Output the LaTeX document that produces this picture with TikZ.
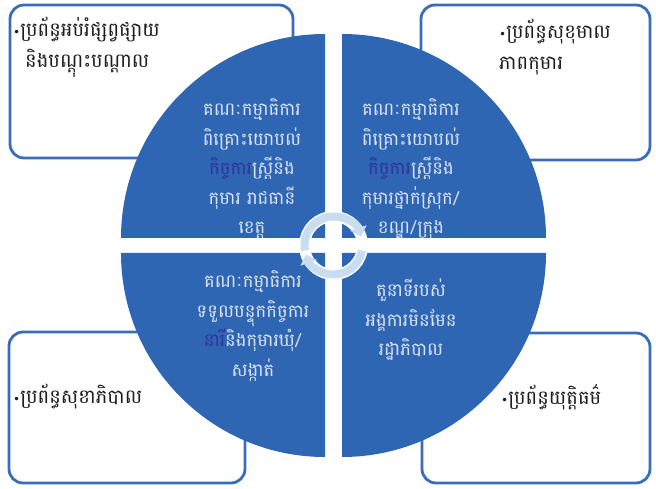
\documentclass[tikz,border=0pt]{standalone}
\usepackage{fontspec}
\usetikzlibrary{arrows.meta}
\newfontfamily\khmer[Script=Khmer]{Battambang}
\newfontfamily\bulfont{DejaVu Sans}
\definecolor{quadblue}{HTML}{2F66B4}
\definecolor{boxblue}{HTML}{3A6DB8}
\definecolor{qtext}{HTML}{DCE4F2}
\definecolor{hitext}{HTML}{2E3396}
\definecolor{ringblue}{HTML}{C9DDF0}
\definecolor{boxtext}{HTML}{1E1E1E}
\tikzset{
  sysbox/.style={draw=boxblue, line width=2.8pt, rounded corners=14pt, fill=white},
  quad/.style={fill=quadblue},
  qlabel/.style={align=center, text=qtext, inner sep=0pt, font=\khmer\fontsize{18}{29.5}\selectfont},
  blabel/.style={align=left, text=boxtext, inner sep=0pt, anchor=north west, font=\khmer\fontsize{19.5}{31}\selectfont},
  ringback/.style={line width=11pt, white},
  ringfront/.style={line width=8pt, ringblue}
}
\newcommand{\bul}{{\bulfont\fontsize{12}{12}\selectfont •}}
\newcommand{\hl}[1]{\textcolor{hitext}{#1}}
\begin{document}
\begin{tikzpicture}[x=1pt,y=1pt]
\useasboundingbox (0,0) rectangle (656,488);
% outer boxes
\draw[sysbox] (10,330) rectangle (293,483);
\draw[sysbox] (421,328) rectangle (650,483);
\draw[sysbox] (9,5) rectangle (245,156);
\draw[sysbox] (422,5) rectangle (650,155);
% quadrants
\fill[quad] (325,250) -- ++(-204,0) arc (180:90:204) -- cycle;
\fill[quad] (342,250) -- ++(0,204) arc (90:0:204) -- cycle;
\fill[quad] (325,235) -- ++(-204,0) arc (180:270:204) -- cycle;
\fill[quad] (342,235) -- ++(0,-204) arc (270:360:204) -- cycle;
% box labels
\node[blabel] (tl) at (13,471) {\bul ប្រព័ន្ធអប់រំផ្សព្វផ្សាយ\\\hspace{12pt}និងបណ្តុះបណ្តាល};
\node[blabel] (tr) at (499,469) {\bul ប្រព័ន្ធសុខុមាល\\ភាពកុមារ};
\node[blabel,anchor=west] (bl) at (13,91) {\bul ប្រព័ន្ធសុខាភិបាល};
\node[blabel,anchor=west] (br) at (501,91) {\bul ប្រព័ន្ធយុត្តិធម៌};
% quadrant labels
\node[qlabel] (q1) at (252,319) {គណៈកម្មាធិការ\\ពិគ្រោះយោបល់\\\hl{កិច្ចការ}ស្ត្រីនិង\\កុមារ រាជធានី\\ខេត្ត};
\node[qlabel] (q2) at (411,319) {គណៈកម្មាធិការ\\ពិគ្រោះយោបល់\\\hl{កិច្ចការ}ស្ត្រីនិង\\កុមារថ្នាក់ស្រុក/\\ខណ្ឌ/ក្រុង};
\node[qlabel] (q3) at (253,162) {គណៈកម្មាធិការ\\ទទួលបន្ទុកកិច្ចការ\\\hl{នារី}និងកុមារឃុំ/\\សង្កាត់};
\node[qlabel] (q4) at (411,168) {តួនាទីរបស់\\អង្គការមិនមែន\\រដ្ឋាភិបាល};
% circular arrows
\coordinate (c) at (333.5,242.5);
\draw[ringback] ([shift={(190:29)}]c) arc (190:12:29);
\draw[ringback] ([shift={(-10:29)}]c) arc (-10:-168:29);
\draw[ringfront,-{Triangle[width=17pt,length=9pt]}] ([shift={(190:29)}]c) arc (190:18:29);
\draw[ringfront,-{Triangle[width=17pt,length=9pt]}] ([shift={(-10:29)}]c) arc (-10:-162:29);
\end{tikzpicture}
\end{document}
